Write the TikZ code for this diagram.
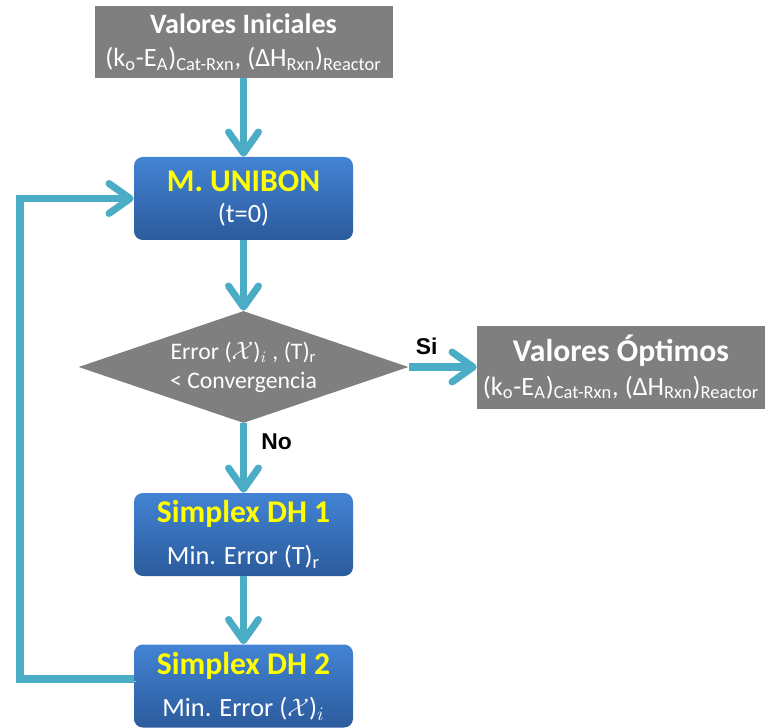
\documentclass[tikz,border=0pt]{standalone}
\usepackage{fontspec}
\setmainfont{Carlito}
\newfontfamily\arialfont{Liberation Sans}
\usetikzlibrary{arrows.meta, positioning, shapes.geometric}
\definecolor{fgray}{HTML}{7F7F7F}
\definecolor{fbluetop}{HTML}{4383D4}
\definecolor{fbluebot}{HTML}{2B5B9C}
\definecolor{fyellow}{HTML}{FFFF00}
\definecolor{farrow}{HTML}{4BACC6}
\tikzset{
  gbox/.style={fill=fgray, text=white, minimum height=1.44cm, align=center,
               inner sep=2pt, font=\fontsize{15}{19}\selectfont},
  bbox/.style={top color=fbluetop, bottom color=fbluebot, rounded corners=5pt,
               text=white, minimum width=4.38cm, minimum height=1.66cm,
               align=center, inner sep=2pt, font=\fontsize{15}{18}\selectfont},
  decis/.style={diamond, aspect=2.9, fill=fgray, text=white, minimum width=6.6cm,
                minimum height=2.24cm, inner sep=0pt, align=center,
                font=\fontsize{13.5}{16.5}\selectfont},
  flow/.style={-{Straight Barb[length=12pt,width=17pt,round]}, line width=4pt, farrow,
               preaction={draw=black!25, transform canvas={shift={(1.2pt,-1.2pt)}}}},
  ylab/.style={text=black, font=\arialfont\bfseries\fontsize{13}{15}\selectfont, inner sep=1pt},
}
\newcommand{\ttl}[1]{{\color{fyellow}\bfseries\fontsize{18}{20}\selectfont #1}}

\begin{document}
\begin{tikzpicture}
  \useasboundingbox (0,0) rectangle (15.3,14.54);
  \node[gbox, minimum width=5.96cm] (init) at (4.87,13.70)
    {{\bfseries\fontsize{16}{19}\selectfont Valores Iniciales}\\
     (k\textsubscript{o}-E\textsubscript{A})\textsubscript{Cat-Rxn}, (ΔH\textsubscript{Rxn})\textsubscript{Reactor}};
  \node[bbox] (unibon) at (4.87,10.57) {\ttl{M. UNIBON}\\(t=0)};
  \node[decis] (dec) at (4.87,7.2) {Error ($\mathcal{X}$)$_{i}$ , (T)\textsubscript{r}\\< Convergencia};
  \node[gbox, minimum width=5.76cm, minimum height=1.66cm] (opt) at (12.42,7.2)
    {{\bfseries\fontsize{18}{20}\selectfont Valores Óptimos}\\
     (k\textsubscript{o}-E\textsubscript{A})\textsubscript{Cat-Rxn}, (ΔH\textsubscript{Rxn})\textsubscript{Reactor}};
  \node[bbox] (sd1) at (4.87,3.85) {\ttl{Simplex DH 1}\\[6pt]Min. Error (T)\textsubscript{r}};
  \node[bbox] (sd2) at (4.87,0.82) {\ttl{Simplex DH 2}\\[6pt]Min. Error ($\mathcal{X}$)$_{i}$};
  \coordinate (back) at (0.4,0.96);

  \draw[flow] (init) -- (unibon);
  \draw[flow] (unibon) -- (dec);
  \draw[flow] (dec) -- node[ylab, pos=0, anchor=south west, xshift=1pt, yshift=4pt] {Si} (opt);
  \draw[flow] (dec) -- node[ylab, pos=0, anchor=north west, xshift=0.25cm, yshift=-0.1cm] {No} (sd1);
  \draw[flow] (sd1) -- (sd2);
  \draw[flow] (sd2.west |- back) -- (back) |- (unibon.west);
\end{tikzpicture}
\end{document}
